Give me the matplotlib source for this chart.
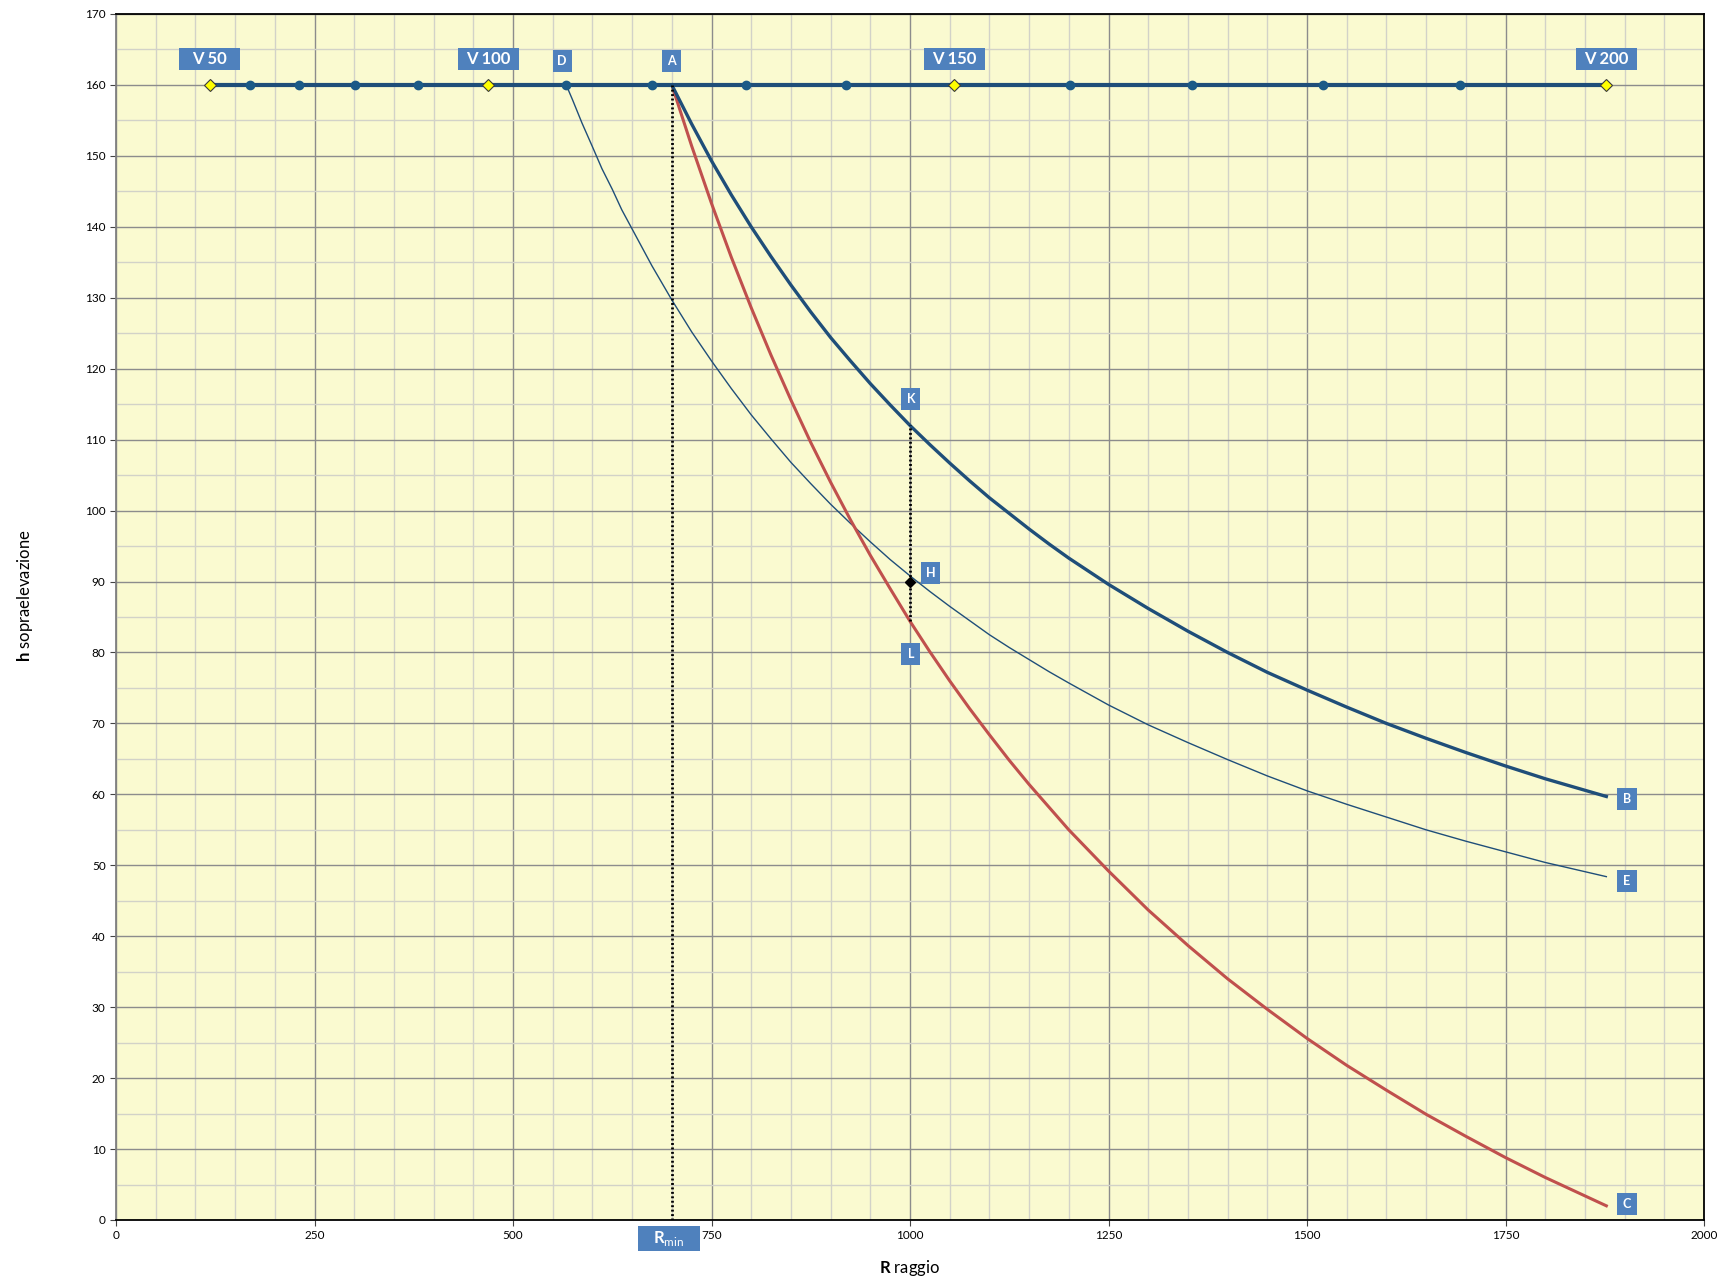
import matplotlib.pyplot as plt
from matplotlib.patches import Rectangle
from matplotlib.ticker import MultipleLocator

plt.rcParams['font.family'] = ['Lato', 'DejaVu Sans']
plt.rcParams['mathtext.fontset'] = 'custom'
plt.rcParams['mathtext.rm'] = 'Lato'
plt.rcParams['mathtext.bf'] = 'Lato:bold'

# speeds along the h = 160 line and their radius
speeds = [50, 60, 70, 80, 90, 100, 110, 120, 130, 140, 150, 160, 170, 180, 190, 200]
radius_v = [118, 169, 230, 301, 380, 469, 567, 675, 793, 920, 1056, 1201, 1355, 1520, 1693, 1877]
h_top = 160

# curves
r_curve = [700, 725, 750, 775, 800, 825, 850, 875, 900, 925, 950, 975, 1000, 1025, 1050,
           1075, 1100, 1125, 1150, 1175, 1200, 1250, 1300, 1350, 1400, 1450, 1500, 1550,
           1600, 1650, 1700, 1750, 1800, 1877]
h_B = [160, 154.5, 149.3, 144.5, 140, 135.8, 131.8, 128.0, 124.4, 121.1, 117.9, 114.9, 112,
       109.3, 106.7, 104.2, 101.8, 99.6, 97.4, 95.3, 93.3, 89.6, 86.2, 83.0, 80.0, 77.2,
       74.7, 72.3, 70.0, 67.9, 65.9, 64.0, 62.2, 59.7]
h_C = [160, 151.4, 143.3, 135.7, 128.6, 121.9, 115.6, 109.6, 104.0, 98.7, 93.7, 89.0, 84.4,
       80.1, 76.0, 72.1, 68.4, 64.8, 61.4, 58.2, 55.0, 49.2, 43.7, 38.7, 34.0, 29.7, 25.6,
       21.8, 18.3, 14.9, 11.8, 8.8, 6.0, 2.0]
r_E = [567, 575, 587, 600, 612, 625, 637, 650, 675] + r_curve
h_E = [160, 157.9, 154.6, 151.3, 148.2, 145.3, 142.4, 139.7, 134.5, 129.7, 125.2, 121.1,
       117.2, 113.5, 110.1, 106.8, 103.8, 100.9, 98.2, 95.6, 93.1, 90.8, 88.6, 86.5, 84.5,
       82.5, 80.7, 79.0, 77.3, 75.7, 72.6, 69.8, 67.3, 64.9, 62.6, 60.5, 58.6, 56.8, 55.0,
       53.4, 51.9, 50.4, 48.4]

r_min = 700
r_k = 1000
h_K, h_H, h_L = 112, 90, 84.4

BOX = "#4F81BD"
NAVY = "#1F4E79"
DOT = "#1B5A87"
RED = "#C0504D"

fig = plt.figure(figsize=(17.27, 12.76), dpi=100)
ax = fig.add_axes([116 / 1727, 1 - 1220 / 1276, 1588 / 1727, 1206 / 1276])
ax.set_facecolor("#FAFAD0")

ax.set_xlim(0, 2000)
ax.set_ylim(0, 170)
ax.xaxis.set_major_locator(MultipleLocator(250))
ax.xaxis.set_minor_locator(MultipleLocator(50))
ax.yaxis.set_major_locator(MultipleLocator(10))
ax.yaxis.set_minor_locator(MultipleLocator(5))
ax.grid(which="major", color="#8C8C8C", lw=1.0, zorder=0)
ax.grid(which="minor", color="#D2D2C8", lw=1.0, zorder=0)
ax.set_axisbelow(True)
ax.tick_params(which="major", labelsize=8.5, length=4, color="#444444")
ax.tick_params(which="minor", length=0)
for side in ["top", "right", "bottom"]:
    ax.spines[side].set_color("black")
    ax.spines[side].set_linewidth(1.3)
ax.spines["left"].set_color("#808080")
ax.spines["left"].set_linewidth(1.3)

# curves
ax.plot(r_E, h_E, color=NAVY, lw=1.0, zorder=3)
ax.plot(r_curve, h_C, color=RED, lw=2.2, zorder=3)
ax.plot(r_curve, h_B, color=NAVY, lw=2.4, zorder=3)

# top speed line
ax.plot(radius_v, [h_top] * len(radius_v), color=NAVY, lw=3, zorder=4)
dots = [r for v, r in zip(speeds, radius_v) if v % 50]
diamonds = [r for v, r in zip(speeds, radius_v) if v % 50 == 0]
ax.plot(dots, [h_top] * len(dots), "o", color=DOT, ms=6, zorder=5)
ax.plot(diamonds, [h_top] * len(diamonds), "D", mfc="#FFFF00", mec="#3A3A3A",
        mew=0.8, ms=6.5, zorder=5)

# dotted verticals
ax.plot([r_min, r_min], [0, h_top], color="black", lw=2.0, ls=(0, (0.7, 0.9)), zorder=5)
ax.plot([r_k, r_k], [h_L, h_K], color="black", lw=2.0, ls=(0, (0.7, 0.9)), zorder=5)
ax.plot([r_k], [h_H], "D", color="black", ms=5, zorder=6)


def tag(x, y, text, w, size, h=3.1):
    ax.add_patch(Rectangle((x - w / 2, y - h / 2), w, h, fc=BOX, ec="none",
                           zorder=7, clip_on=False))
    ax.text(x, y, text, ha="center", va="center", color="white", fontsize=size,
            fontweight="bold", zorder=8, clip_on=False)


for v, r in zip(speeds, radius_v):
    if v % 50 == 0:
        tag(r, 163.6, f"V {v}", 77, 12)
tag(562, 163.4, "D", 24, 9)
tag(700, 163.4, "A", 24, 9)
tag(1001, 115.7, "K", 24, 9)
tag(1026, 91.2, "H", 24, 9)
tag(1001, 79.8, "L", 24, 9)
tag(1903, 59.4, "B", 24, 9)
tag(1903, 47.8, "E", 24, 9)
tag(1903, 2.2, "C", 24, 9)

ax.add_patch(Rectangle((r_min - 42, -4.4), 77, 3.5, fc=BOX, ec="none", zorder=7, clip_on=False))
ax.text(r_min - 4.5, -2.6, r"R$_{\mathrm{min}}$", ha="center", va="center", color="white",
        fontsize=12, fontweight="bold", zorder=8, clip_on=False)

ax.set_xlabel(r"$\mathbf{R}$ raggio", fontsize=12, labelpad=12)
ax.set_ylabel(r"$\mathbf{h}$ sopraelevazione", fontsize=12)
ax.yaxis.set_label_coords(-0.051, 0.518)

fig.savefig("out.png", dpi=100)
